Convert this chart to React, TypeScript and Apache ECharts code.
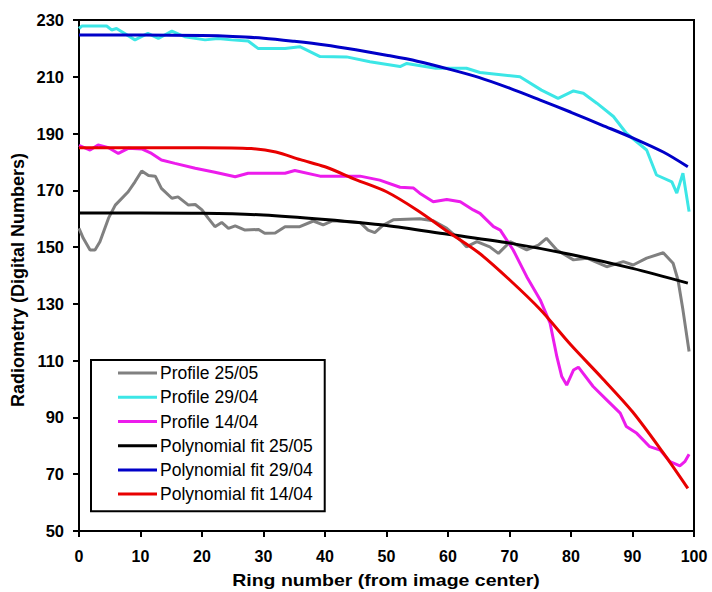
import React, { useEffect, useRef } from "react";
import * as echarts from "echarts";

// Profile 25/05 (grey)
const p2505X = [0, 0.7, 1.8, 2.6, 3.4, 4.8, 5.9, 8, 9.1, 10.2, 11.3, 12.4, 13.4, 15.1, 16.1, 17.8, 18.9, 20, 21, 22.1, 23.2, 24.3, 25.4, 27, 29.2, 30.2, 31.9, 33.5, 35.9, 38.1, 39.7, 41.3, 45.7, 47, 48.1, 49.5, 51.1, 55.4, 57.6, 59.8, 62, 63, 64.7, 66.8, 68.2, 70.1, 72.8, 74.7, 76, 77.7, 80.4, 82.6, 85.8, 88.5, 90.1, 92.3, 95, 96.6, 97.4, 98.2, 99.2];
const p2505Y = [156.6, 153.1, 149, 149, 151.9, 160.2, 164.8, 169.5, 173, 176.8, 175.2, 175, 170.7, 167.2, 167.7, 164.8, 165, 163.1, 160.2, 157.2, 158.7, 156.6, 157.5, 156, 156.2, 154.9, 155, 157.2, 157.2, 159.2, 157.8, 159.3, 158.7, 156, 155.1, 157.8, 159.6, 160, 159.3, 156.6, 152.5, 150.1, 151.9, 150.1, 147.8, 151.9, 149, 150.7, 153.1, 149, 145.5, 146.1, 143.1, 144.9, 143.7, 146.1, 148, 144.3, 138.4, 127.9, 113.2];

// Profile 29/04 (cyan)
const p2904X = [0, 0.5, 4.5, 5.3, 6.1, 9.1, 11.2, 12.9, 15.1, 17.2, 20.5, 22.6, 24.8, 27.5, 29.1, 33.5, 35.9, 39.2, 43.5, 47.3, 52.2, 53.3, 58, 63, 65.2, 71.7, 75.2, 77.9, 80.4, 82, 84.2, 86.9, 89, 92.3, 93.9, 96.4, 97.2, 98.2, 99.2];
const p2904Y = [227, 227.9, 227.9, 226.5, 227, 223, 225.3, 223.5, 226.1, 224.1, 223, 223.5, 223, 222.6, 220, 220, 220.6, 217.1, 217, 215.3, 213.6, 214.7, 213, 213, 211.5, 210, 205.3, 202.4, 205, 204.2, 200.7, 196, 190.1, 184.2, 175.4, 173, 169, 176, 162.5];

// Profile 14/04 (magenta)
const p1404X = [0, 1.8, 3.1, 4.8, 6.4, 8, 10.2, 11.8, 13.4, 15.6, 18.9, 22.1, 25.4, 27.5, 33.5, 35.1, 39.2, 45.7, 48.9, 52.2, 54.4, 55.4, 57.6, 59.8, 62, 64.1, 65.2, 67.4, 68.5, 70.6, 72.8, 75, 76.6, 77.7, 78.5, 79.3, 80.4, 81.2, 83.6, 85.8, 88, 89, 90.7, 92.8, 94.5, 96.1, 97.7, 98.5, 99.2];
const p1404Y = [185.8, 184.2, 186, 185, 183, 184.8, 184.6, 183, 180.7, 179.5, 177.8, 176.4, 174.8, 176, 176, 177, 175, 175, 173.6, 171.1, 170.8, 169, 166, 166.8, 166, 163.1, 161.9, 157.2, 156, 149, 139.6, 131.4, 123.2, 111.4, 104.4, 101.4, 106.7, 107.7, 100.9, 96.2, 91.5, 86.8, 84.4, 79.7, 78.5, 74.4, 72.9, 74.4, 77];

// Polynomial fits
const fit2505X = [0, 10, 20, 30, 40, 50, 60, 70, 80, 90, 99];
const fit2505Y = [162, 162, 161.9, 161.3, 159.7, 157.6, 154.5, 151.4, 147.4, 142.5, 137.3];
const fit2904X = [0, 10, 20, 25, 30, 35, 40, 45, 50, 55, 60, 65, 70, 75, 80, 85, 90, 95, 99];
const fit2904Y = [224.7, 224.7, 224.5, 224.2, 223.6, 222.5, 221.2, 219.5, 217.6, 215.5, 212.8, 209.8, 206, 201.8, 197.5, 193, 188.5, 183.5, 178.3];
const fit1404X = [0, 10, 20, 28, 32, 36, 40, 45, 50, 55, 60, 65, 70, 75, 80, 85, 90, 95, 99];
const fit1404Y = [185, 185, 185, 184.7, 183.5, 180.8, 178.3, 173.8, 169.5, 163, 155.4, 148, 138.5, 128, 115.5, 104, 92, 77.5, 65];

const seriesNames = ["Profile 25/05", "Profile 29/04", "Profile 14/04", "Polynomial fit 25/05", "Polynomial fit 29/04", "Polynomial fit 14/04"];
const seriesColors = ["#808080", "#3ce6e6", "#ec1cec", "#000000", "#0000c8", "#e80000"];
const seriesXs = [p2505X, p2904X, p1404X, fit2505X, fit2904X, fit1404X];
const seriesYs = [p2505Y, p2904Y, p1404Y, fit2505Y, fit2904Y, fit1404Y];

const xTitle = "Ring number (from image center)";
const yTitle = "Radiometry (Digital Numbers)";

const FONT = "'Liberation Sans', Arial, sans-serif";

export default function App() {
  const ref = useRef<HTMLDivElement>(null);
  useEffect(() => {
    const chart = echarts.init(ref.current!, null, { renderer: "svg" });
    chart.setOption({
      animation: false,
      backgroundColor: "#ffffff",
      grid: {
        left: 79,
        right: 18,
        top: 20,
        bottom: 61,
        show: true,
        borderColor: "#000",
        borderWidth: 2,
        backgroundColor: "transparent",
      },
      xAxis: {
        type: "value",
        min: 0,
        max: 100,
        interval: 10,
        splitLine: { show: false },
        axisLine: { show: true, onZero: false, lineStyle: { color: "#000", width: 2 } },
        axisTick: { show: true, length: 6, lineStyle: { color: "#000", width: 2 } },
        axisLabel: { color: "#000", fontFamily: FONT, fontWeight: "bold", fontSize: 16, margin: 17 },
      },
      yAxis: {
        type: "value",
        min: 50,
        max: 230,
        interval: 20,
        splitLine: { show: false },
        axisLine: { show: true, onZero: false, lineStyle: { color: "#000", width: 2 } },
        axisTick: { show: true, length: 6, lineStyle: { color: "#000", width: 2 } },
        axisLabel: { color: "#000", fontFamily: FONT, fontWeight: "bold", fontSize: 16.5, margin: 15 },
      },
      legend: {
        orient: "vertical",
        left: 91,
        top: 360,
        data: seriesNames,
        icon: "rect",
        backgroundColor: "#fff",
        borderColor: "#000",
        borderWidth: 2,
        padding: [1, 12, 5, 27],
        itemGap: 0,
        itemWidth: 39,
        itemHeight: 3,
        textStyle: { color: "#000", fontFamily: FONT, fontSize: 17.5, lineHeight: 24.2, padding: [0, 0, 0, -2] },
      },
      graphic: [
        {
          type: "text",
          x: 386,
          y: 581,
          scaleX: 1.22,
          style: { text: xTitle, fill: "#000", font: `bold 16px ${FONT}`, textAlign: "center", textVerticalAlign: "middle" },
        },
        {
          type: "text",
          x: 18,
          y: 280,
          rotation: Math.PI / 2,
          style: { text: yTitle, fill: "#000", font: `bold 18px ${FONT}`, textAlign: "center", textVerticalAlign: "middle" },
        },
      ],
      series: seriesNames.map((name, i) => ({
        name,
        type: "line",
        symbol: "none",
        smooth: i >= 3 ? 0.3 : false,
        color: seriesColors[i],
        lineStyle: { color: seriesColors[i], width: 3 },
        data: seriesXs[i].map((x, j) => [x, seriesYs[i][j]]),
        z: 2 + i,
      })),
    });
    return () => chart.dispose();
  }, []);
  return <div ref={ref} style={{ position: "fixed", left: 0, top: 0, width: 712, height: 592 }} />;
}
